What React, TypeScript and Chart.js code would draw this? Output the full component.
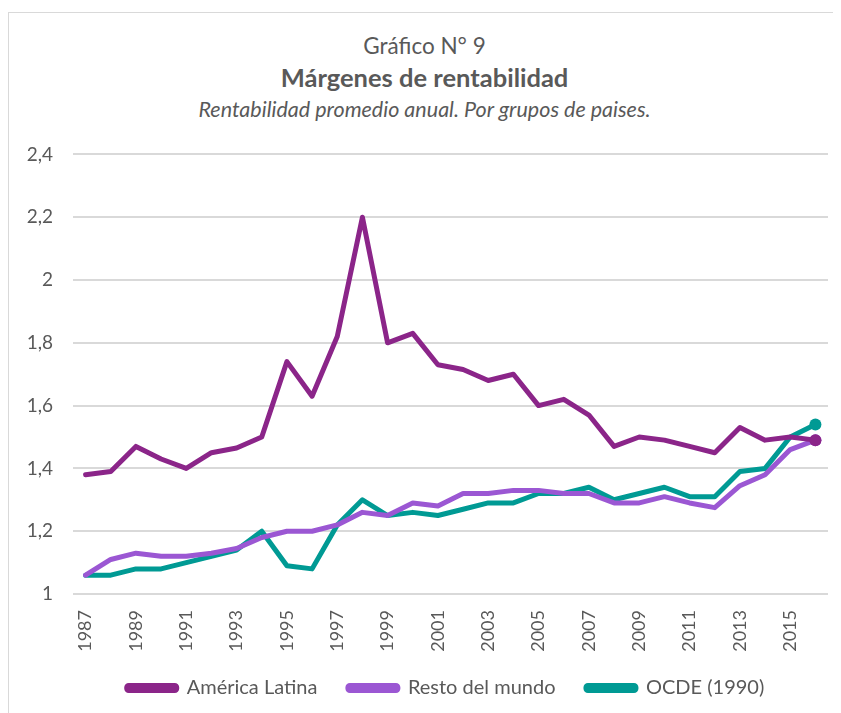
import React, { useEffect, useRef } from "react";
import { Chart, registerables } from "chart.js";
Chart.register(...registerables);

const years = [
  "1987", "1988", "1989", "1990", "1991", "1992", "1993", "1994", "1995", "1996",
  "1997", "1998", "1999", "2000", "2001", "2002", "2003", "2004", "2005", "2006",
  "2007", "2008", "2009", "2010", "2011", "2012", "2013", "2014", "2015", "2016",
];
const americaLatina = [
  1.38, 1.39, 1.47, 1.43, 1.40, 1.45, 1.465, 1.50, 1.74, 1.63,
  1.82, 2.20, 1.80, 1.83, 1.73, 1.715, 1.68, 1.70, 1.60, 1.62,
  1.57, 1.47, 1.50, 1.49, 1.47, 1.45, 1.53, 1.49, 1.50, 1.49,
];
const restoMundo = [
  1.06, 1.11, 1.13, 1.12, 1.12, 1.13, 1.145, 1.18, 1.20, 1.20,
  1.22, 1.26, 1.25, 1.29, 1.28, 1.32, 1.32, 1.33, 1.33, 1.32,
  1.32, 1.29, 1.29, 1.31, 1.29, 1.275, 1.345, 1.38, 1.46, 1.49,
];
const ocde = [
  1.06, 1.06, 1.08, 1.08, 1.10, 1.12, 1.14, 1.20, 1.09, 1.08,
  1.22, 1.30, 1.25, 1.26, 1.25, 1.27, 1.29, 1.29, 1.32, 1.32,
  1.34, 1.30, 1.32, 1.34, 1.31, 1.31, 1.39, 1.40, 1.50, 1.54,
];
const seriesNames = ["América Latina", "Resto del mundo", "OCDE (1990)"];
const seriesColors = ["#8B2589", "#9B57D3", "#009A94"];
const yMin = 1;
const yMax = 2.4;
const yStep = 0.2;

const FONT = "Lato, 'Open Sans', sans-serif";
const GRAY = "#595959";

const legendShift = {
  id: "legendShift",
  afterLayout(chart: any) {
    if (chart.legend) chart.legend.left += 54;
  },
};

export default function App() {
  const canvasRef = useRef<HTMLCanvasElement | null>(null);

  useEffect(() => {
    if (!canvasRef.current) return;
    const lastRadius = (n: number) => years.map((_, i) => (i === n - 1 ? 6 : 0));
    const mk = (label: string, data: number[], color: string) => ({
      label,
      data,
      borderColor: color,
      backgroundColor: color,
      borderWidth: 5,
      pointRadius: lastRadius(data.length),
      pointHoverRadius: lastRadius(data.length),
      pointBackgroundColor: color,
      pointBorderColor: color,
      pointBorderWidth: 0,
      tension: 0,
      borderJoinStyle: "round" as const,
      borderCapStyle: "round" as const,
    });
    const defaultLabels = Chart.defaults.plugins.legend.labels.generateLabels;
    const chart = new Chart(canvasRef.current, {
      type: "line",
      data: {
        labels: years,
        datasets: [
          mk(seriesNames[0], americaLatina, seriesColors[0]),
          mk(seriesNames[1], restoMundo, seriesColors[1]),
          mk(seriesNames[2], ocde, seriesColors[2]),
        ],
      },
      plugins: [legendShift],
      options: {
        animation: false,
        responsive: true,
        maintainAspectRatio: false,
        layout: { padding: { left: 0, right: 12, top: 0, bottom: 0 } },
        plugins: {
          tooltip: { enabled: false },
          legend: {
            position: "bottom",
            labels: {
              boxWidth: 50,
              boxHeight: 5,
              useBorderRadius: true,
              borderRadius: 2,
              color: GRAY,
              font: { family: FONT, size: 20 },
              padding: 10,
              generateLabels: (c: any) =>
                defaultLabels(c).map((l: any, i: number, arr: any[]) => ({
                  ...l,
                  text: i < arr.length - 1 ? l.text + "    " : l.text,
                })),
            },
          },
        },
        scales: {
          x: {
            offset: true,
            grid: { display: false },
            border: { display: false },
            afterFit: (s: any) => {
              s.height = 74;
              s.paddingLeft = 0;
              s.paddingRight = 0;
            },
            ticks: {
              autoSkip: false,
              maxRotation: 90,
              minRotation: 90,
              color: GRAY,
              font: { family: FONT, size: 18 },
              padding: 8,
              callback: (_v: any, i: number) => (i % 2 === 0 ? years[i] : ""),
            },
          },
          y: {
            min: yMin,
            max: yMax,
            grid: { color: "#d9d9d9", lineWidth: 2, drawTicks: false },
            border: { display: false },
            afterFit: (s: any) => {
              s.width = 64;
            },
            ticks: {
              stepSize: yStep,
              color: GRAY,
              padding: 20,
              font: { family: FONT, size: 19 },
              callback: (v: any) => {
                const n = Math.round(Number(v) * 10) / 10;
                return String(n).replace(".", ",");
              },
            },
          },
        },
      },
    });
    return () => chart.destroy();
  }, []);

  return (
    <div
      style={{
        position: "relative",
        marginTop: 4,
        width: 832,
        height: 701,
        borderTop: "1px solid #d9d9d9",
        borderLeft: "1px solid #d9d9d9",
        boxSizing: "border-box",
        fontFamily: FONT,
        color: GRAY,
      }}
    >
      <div style={{ position: "absolute", top: 19, left: 0, right: 0, textAlign: "center", fontSize: 22.5 }}>
        Gráfico N° 9
      </div>
      <div style={{ position: "absolute", top: 49, left: 0, right: 0, textAlign: "center", fontSize: 25.5, fontWeight: "bold" }}>
        Márgenes de rentabilidad
      </div>
      <div style={{ position: "absolute", top: 83, left: 0, right: 0, textAlign: "center", fontSize: 21.5, fontStyle: "italic" }}>
        Rentabilidad promedio anual. Por grupos de paises.
      </div>
      <div style={{ position: "absolute", top: 110, left: 0, width: 831, height: 585 }}>
        <canvas ref={canvasRef} />
      </div>
    </div>
  );
}
